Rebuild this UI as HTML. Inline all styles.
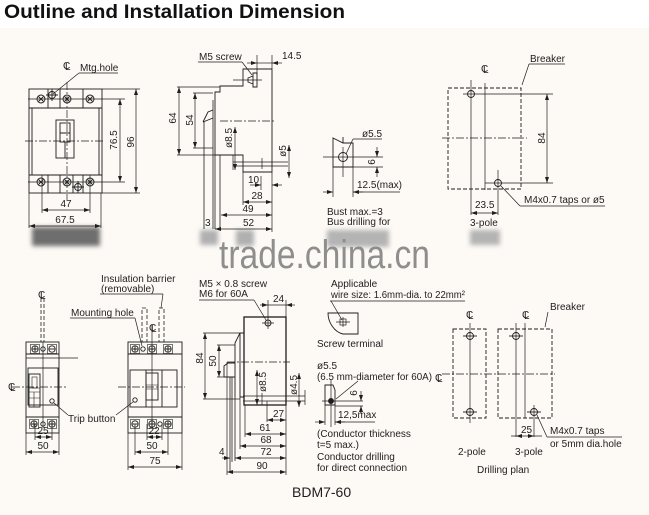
<!DOCTYPE html>
<html><head><meta charset="utf-8"><style>
html,body{margin:0;padding:0;background:#fdf9f5;}
svg{display:block;}
text{font-family:"Liberation Sans",Arial,sans-serif;font-size:10px;fill:#1e1e1e;stroke:none;}
</style></head><body>
<svg width="649" height="515" viewBox="0 0 649 515" xmlns="http://www.w3.org/2000/svg">
<defs>
<marker id="a" viewBox="0 0 6 4" refX="6" refY="2" markerWidth="6" markerHeight="4" markerUnits="userSpaceOnUse" orient="auto-start-reverse"><path d="M0,0 L6,2 L0,4 z" fill="#1e1e1e"/></marker>
<filter id="b" x="-50%" y="-50%" width="200%" height="200%"><feGaussianBlur stdDeviation="2.5"/></filter>
<g id="sc"><circle r="4"/><path d="M-2.5,-2.5L2.5,2.5M2.5,-2.5L-2.5,2.5"/></g>
<g id="mh"><circle r="3.5"/><path d="M-6,0H6M0,-6V6"/></g>
<g id="sp"><circle r="3.2"/><path d="M-3.2,0H3.2M0,-3.2V3.2"/></g>
<g id="sm"><circle r="3.2"/><path d="M-3.2,0H3.2"/></g>
<g id="dh"><circle r="3.5"/><path d="M-7,0H7"/></g>
</defs>
<rect width="649" height="515" fill="#fdf9f5"/>
<rect width="649" height="28" fill="#ffffff"/>
<text x="4" y="18" textLength="341" lengthAdjust="spacingAndGlyphs" style="font-size:19.5px;font-weight:bold;fill:#111">Outline and Installation Dimension</text>

<!-- blurred blobs -->
<g filter="url(#b)">
<rect x="32" y="227" width="68" height="19" fill="#6e6e6e"/>
<rect x="200" y="230" width="18" height="15" fill="#b0b0b0"/>
<rect x="236" y="230" width="18" height="16" fill="#b0b0b0"/>
<rect x="327" y="230" width="62" height="17" fill="#b4b4b4"/>
<rect x="470" y="230" width="30" height="15" fill="#b4b4b4"/>
</g>
<text x="219" y="268" textLength="211" lengthAdjust="spacingAndGlyphs" style="font-size:40px;fill:#8e8e8e">trade.china.cn</text>

<g fill="none" stroke="#1e1e1e" stroke-width="0.9">
<!-- ===== TOP LEFT breaker ===== -->
<rect x="29" y="89" width="73" height="104"/>
<path d="M29,108H102M29,175H102M32,108V175M99,108V175"/>
<path d="M48,89V108M60,89V108M83,89V108M48,175V193M60,175V193M73,175V193M83,175V193"/>
<rect x="56" y="120" width="18" height="38"/>
<rect x="60" y="123" width="10" height="19"/>
<path d="M60,133H70M65,142V158"/>
<use href="#sc" x="41" y="99"/><use href="#sc" x="67" y="99"/><use href="#sc" x="90" y="99"/>
<use href="#sc" x="41" y="182"/><use href="#sc" x="67" y="182"/><use href="#sc" x="90" y="182"/>
<use href="#mh" x="52" y="95"/><use href="#mh" x="78" y="187"/>
<path d="M67,82V200M25,141H103" stroke-dasharray="8 2 2 2" stroke-width="0.7"/>
<path d="M28,99H125M28,182H125M102,89H140M102,193H140" stroke-width="0.7"/>
<path d="M42,175V213M90,175V213M29,193V228M101,193V228" stroke-width="0.7"/>
<path d="M79,73H118M79,73L53,94" stroke-width="0.7"/>
<g marker-start="url(#a)" marker-end="url(#a)" stroke-width="0.7">
<path d="M120,99V182"/><path d="M136,89V193"/><path d="M42,210H90"/><path d="M29,226H101"/>
</g>

<!-- ===== TOP MIDDLE side view ===== -->
<path d="M243,69H272V172H243V155H215V92H220V86H243Z"/>
<path d="M213,100V229M204,122V229M215,155V229M220,155V229" stroke-width="0.8"/>
<path d="M243,172V205M272,172V232" stroke-width="0.7"/>
<path d="M203,122L208,112L213,110M203,122L213,118"/>
<path d="M253,73V87H257V73ZM253,76L248,78V82L253,84"/>
<path d="M233,80H262" stroke-width="0.7"/>
<path d="M233,155V170M233,162H288M233,166H288M262,158V169" stroke-width="0.7"/>
<path d="M220,121H276" stroke-dasharray="8 2 2 2" stroke-width="0.7"/>
<path d="M177,87H220M177,155H215M193,93H213M193,148H213" stroke-width="0.7"/>
<path d="M257,55V75M272,55V69M261,176V190M198,62H242M242,62L252,75" stroke-width="0.7"/>
<path d="M257,63H272" stroke-width="0.7"/>
<g marker-end="url(#a)" stroke-width="0.7">
<path d="M247,63H257"/><path d="M282,63H272"/>
<path d="M250,185H261"/><path d="M282,185H272"/>
</g>
<g marker-start="url(#a)" marker-end="url(#a)" stroke-width="0.7">
<path d="M179,87V155"/><path d="M195,93V148"/><path d="M235,127V170"/><path d="M289,145V178"/>
<path d="M243,202H272"/><path d="M221,215H272"/><path d="M215,229H272"/>
</g>

<!-- ===== Bus drilling detail ===== -->
<path d="M333,167V138L343,143H353V167Z M343,137V143"/>
<circle cx="343" cy="157" r="4.5"/>
<path d="M323,157H383M343,147V177M353,167H383M333,167V197M353,167V197" stroke-width="0.7"/>
<path d="M353,139H382M353,139L346,154M353,192H400" stroke-width="0.7"/>
<g marker-end="url(#a)" stroke-width="0.7">
<path d="M377,147V157"/><path d="M377,177V167"/>
<path d="M323,192H333"/><path d="M363,192H353"/>
</g>

<!-- ===== TOP RIGHT drilling ===== -->
<rect x="448" y="88" width="73" height="101" stroke-dasharray="4 2"/>
<circle cx="471" cy="94" r="3.5"/><circle cx="498" cy="183" r="3.5"/>
<path d="M471,80V215M463,94H553M485,83V190M498,170V215M485,183H553" stroke-width="0.7"/>
<path d="M442,138H527" stroke-dasharray="8 2 2 2" stroke-width="0.7"/>
<path d="M529,64H565M529,64L522,85M520,206H605M520,206L501,186" stroke-width="0.7"/>
<g marker-start="url(#a)" marker-end="url(#a)" stroke-width="0.7">
<path d="M547,94V183"/><path d="M471,213H498"/>
</g>

<!-- ===== BOTTOM LEFT 2-pole ===== -->
<rect x="26" y="342" width="33" height="91"/>
<path d="M26,354H59M26,417H59"/>
<rect x="30.5" y="344.5" width="9" height="9" stroke-width="0.6"/>
<rect x="47.5" y="344.5" width="9" height="9" stroke-width="0.6"/>
<rect x="29.5" y="419.5" width="9" height="9" stroke-width="0.6"/>
<rect x="47.5" y="419.5" width="9" height="9" stroke-width="0.6"/>
<use href="#sp" x="35" y="349"/><circle cx="43" cy="349" r="2.2"/><use href="#sm" x="52" y="349"/>
<use href="#sp" x="34" y="424"/><circle cx="43" cy="424" r="2.2"/><use href="#sp" x="52" y="424"/>
<rect x="28" y="368" width="30" height="37"/>
<rect x="29" y="374" width="11" height="33"/>
<rect x="32" y="377" width="5" height="11" stroke-width="0.6"/>
<path d="M29,388H40M29,392H40M29,398H40M34,392V407" stroke-width="0.6"/>
<path d="M43,342V428" stroke-width="0.7"/>
<path d="M41,298V342M44,298V342" stroke-dasharray="4 2" stroke-width="0.8"/>
<path d="M26,358H78" stroke-width="0.7"/>
<path d="M12,387H68" stroke-dasharray="8 2 2 2" stroke-width="0.7"/>
<circle cx="52" cy="401" r="2.2"/>
<path d="M35,424V440M52,424V440M26,433V455M59,433V455" stroke-width="0.7"/>
<g marker-start="url(#a)" marker-end="url(#a)" stroke-width="0.7">
<path d="M35,437H52"/><path d="M26,452H59"/>
</g>

<!-- ===== BOTTOM 3-pole ===== -->
<rect x="128" y="342" width="54" height="91"/>
<path d="M128,354H182M128,417H182"/>
<rect x="130.5" y="344.5" width="9" height="9" stroke-width="0.6"/>
<rect x="147.5" y="344.5" width="9" height="9" stroke-width="0.6"/>
<rect x="163.5" y="344.5" width="9" height="9" stroke-width="0.6"/>
<rect x="130.5" y="419.5" width="9" height="9" stroke-width="0.6"/>
<rect x="147.5" y="419.5" width="9" height="9" stroke-width="0.6"/>
<rect x="163.5" y="419.5" width="9" height="9" stroke-width="0.6"/>
<use href="#sp" x="135" y="349"/><circle cx="143" cy="349" r="2.2"/><use href="#sp" x="152" y="349"/><use href="#sp" x="168" y="349"/>
<use href="#sm" x="135" y="424"/><use href="#sp" x="152" y="424"/><circle cx="160" cy="424" r="2.2"/><use href="#sp" x="168" y="424"/>
<rect x="130" y="370" width="47" height="37"/>
<path d="M146,370V407M162,370V407"/>
<rect x="146" y="373" width="12" height="27"/>
<path d="M146,385H158M146,389H158M152,389V400" stroke-width="0.6"/>
<path d="M152,325V428" stroke-width="0.7"/>
<path d="M118,387H185" stroke-dasharray="8 2 2 2" stroke-width="0.7"/>
<rect x="142" y="308" width="5" height="34" stroke-dasharray="4 2" stroke-width="0.8"/>
<rect x="159" y="308" width="5" height="34" stroke-dasharray="4 2" stroke-width="0.8"/>
<circle cx="135" cy="400" r="2.2"/>
<path d="M147,424V440M162,424V440M135,424V455M168,424V455M128,433V470M182,433V470" stroke-width="0.7"/>
<g marker-start="url(#a)" marker-end="url(#a)" stroke-width="0.7">
<path d="M147,437H162"/><path d="M135,452H168"/><path d="M128,467H182"/>
</g>
<path d="M70,318H135M135,318L142,346M100,294H163M163,294L161,308M54,403L68,415M116,415L133,402" stroke-width="0.7"/>

<!-- ===== BOTTOM MIDDLE side view ===== -->
<rect x="244" y="317" width="42" height="88" stroke-width="1.3"/>
<path d="M244,333H240V397H244M240,333L235,343V397"/>
<path d="M224,377V366L228,363H235M224,377H235"/>
<path d="M230,377V472M232,377V462M235,397V461" stroke-width="0.8"/>
<circle cx="268" cy="323" r="3"/>
<path d="M262,323H274M268,317V329" stroke-width="0.7"/>
<path d="M227,362H290" stroke-dasharray="8 2 2 2" stroke-width="0.7"/>
<path d="M243,396H305M243,401H305M305,390V405M262,393V405" stroke-width="0.7"/>
<path d="M203,333H240M203,399H240M217,345H235M217,377H224" stroke-width="0.7"/>
<path d="M268,300V318M286,300V317M268,305H286" stroke-width="0.7"/>
<path d="M267,401V422M245,405V437M240,397V449M227,362V475M286,405V475" stroke-width="0.7"/>
<path d="M199,300H254M254,300L266,320" stroke-width="0.7"/>
<g marker-end="url(#a)" stroke-width="0.7">
<path d="M260,305H268"/><path d="M295,305H286"/><path d="M222,458H230"/>
</g>
<g marker-start="url(#a)" marker-end="url(#a)" stroke-width="0.7">
<path d="M205,333V399"/><path d="M219,345V377"/><path d="M257,370V405"/><path d="M299,373V407"/>
<path d="M267,420H286"/><path d="M245,434H286"/><path d="M240,446H286"/><path d="M235,458H286"/><path d="M227,472H286"/>
</g>

<!-- ===== BOTTOM CENTER details ===== -->
<path d="M330,301H465M331,301L342,320" stroke-width="0.7"/>
<path d="M328,313H358V334H343C334,332 328,322 328,313Z"/>
<rect x="340" y="319" width="6" height="6" stroke-width="0.7"/>
<path d="M336,322H350M343,317V327" stroke-width="0.7"/>
<path d="M325,405V385H333L335,390V405Z"/>
<circle cx="331" cy="401" r="2.5" fill="#1e1e1e"/>
<path d="M322,401H363M331,380V427M335,406H363M325,405V425M335,405V425M336,399L358,381M335,422H375" stroke-width="0.7"/>
<g marker-end="url(#a)" stroke-width="0.7">
<path d="M361,391V401"/><path d="M361,414V406"/>
<path d="M315,422H325"/><path d="M345,422H335"/>
</g>

<!-- ===== DRILLING PLAN ===== -->
<rect x="453" y="329" width="33" height="89" stroke-dasharray="4 2"/>
<path d="M470,323V423" stroke-width="0.7"/>
<use href="#dh" x="470" y="336"/><use href="#dh" x="470" y="412"/>
<rect x="498" y="329" width="54" height="89" stroke-dasharray="4 2"/>
<path d="M516,323V437M525,323V418M534,405V437" stroke-width="0.7"/>
<use href="#dh" x="516" y="336"/><use href="#dh" x="534" y="412"/>
<path d="M442,374H555" stroke-dasharray="8 2 2 2" stroke-width="0.7"/>
<path d="M547,437H622M547,437L537,415M548,312L545,327M511,436H516M534,436H542" stroke-width="0.7"/>
<g marker-start="url(#a)" marker-end="url(#a)" stroke-width="0.7">
<path d="M516,436H534"/>
</g>
</g>

<!-- ===== TEXT ===== -->
<g style="font-size:9px">
<text x="63" y="69">C</text><text x="65" y="70">L</text>
<text x="481" y="72">C</text><text x="483" y="73">L</text>
<text x="38" y="298">C</text><text x="40" y="299">L</text>
<text x="8" y="390">C</text><text x="10" y="391">L</text>
<text x="149" y="331">C</text><text x="151" y="332">L</text>
<text x="466" y="318">C</text><text x="468" y="319">L</text>
<text x="522" y="318">C</text><text x="524" y="319">L</text>
<text x="435" y="381">C</text><text x="437" y="382">L</text>
</g>
<text x="80" y="71">Mtg.hole</text>
<text transform="translate(117,140) rotate(-90)" text-anchor="middle">76.5</text>
<text transform="translate(134,142) rotate(-90)" text-anchor="middle">96</text>
<text x="66" y="207" text-anchor="middle">47</text>
<text x="65" y="223" text-anchor="middle">67.5</text>

<text x="199" y="60">M5 screw</text>
<text x="282" y="59">14.5</text>
<text transform="translate(176,118) rotate(-90)" text-anchor="middle">64</text>
<text transform="translate(193,120) rotate(-90)" text-anchor="middle">54</text>
<text transform="translate(232,138) rotate(-90)" text-anchor="middle">ø8.5</text>
<text transform="translate(286,151) rotate(-90)" text-anchor="middle">ø5</text>
<text x="248" y="183">10</text>
<text x="257" y="199" text-anchor="middle">28</text>
<text x="248" y="212" text-anchor="middle">49</text>
<text x="243" y="226">52</text>
<text x="205" y="226">3</text>

<text x="362" y="137">ø5.5</text>
<text transform="translate(375,162) rotate(-90)" text-anchor="middle">6</text>
<text x="357" y="188">12.5(max)</text>
<text x="327" y="215">Bust max.=3</text>
<text x="327" y="225">Bus drilling for</text>

<text x="530" y="62">Breaker</text>
<text transform="translate(545,138) rotate(-90)" text-anchor="middle">84</text>
<text x="475" y="208">23.5</text>
<text x="524" y="203">M4x0.7 taps or ø5</text>
<text x="470" y="226">3-pole</text>

<text x="101" y="282">Insulation barrier</text>
<text x="101" y="292">(removable)</text>
<text x="71" y="316">Mounting hole</text>
<text x="68" y="422">Trip button</text>
<text x="43" y="434" text-anchor="middle">25</text>
<text x="43" y="449" text-anchor="middle">50</text>
<text x="154" y="434" text-anchor="middle">22</text>
<text x="152" y="449" text-anchor="middle">50</text>
<text x="155" y="464" text-anchor="middle">75</text>

<text x="199" y="287">M5 × 0.8 screw</text>
<text x="199" y="297">M6 for 60A</text>
<text x="273" y="302">24</text>
<text transform="translate(203,358) rotate(-90)" text-anchor="middle">84</text>
<text transform="translate(216,361) rotate(-90)" text-anchor="middle">50</text>
<text transform="translate(266,382) rotate(-90)" text-anchor="middle">ø8.5</text>
<text transform="translate(297,385) rotate(-90)" text-anchor="middle">ø4.5</text>
<text x="273" y="417">27</text>
<text x="265" y="431" text-anchor="middle">61</text>
<text x="266" y="443" text-anchor="middle">68</text>
<text x="266" y="455" text-anchor="middle">72</text>
<text x="262" y="469" text-anchor="middle">90</text>
<text x="219" y="455">4</text>

<text x="331" y="287">Applicable</text>
<text x="331" y="298" textLength="134" lengthAdjust="spacingAndGlyphs">wire size: 1.6mm-dia. to 22mm²</text>
<text x="317" y="347">Screw terminal</text>
<text x="317" y="369">ø5.5</text>
<text x="317" y="380" textLength="115" lengthAdjust="spacingAndGlyphs">(6.5 mm-diameter for 60A)</text>
<text transform="translate(357,393) rotate(-90)" text-anchor="middle">6</text>
<text x="338" y="418">12,5max</text>
<text x="317" y="437">(Conductor thickness</text>
<text x="317" y="448">t=5 max.)</text>
<text x="317" y="460">Conductor drilling</text>
<text x="317" y="471">for direct connection</text>

<text x="550" y="310">Breaker</text>
<text x="521" y="433">25</text>
<text x="550" y="434">M4x0.7 taps</text>
<text x="550" y="447">or 5mm dia.hole</text>
<text x="458" y="455">2-pole</text>
<text x="515" y="455">3-pole</text>
<text x="477" y="473">Drilling plan</text>

<text x="292" y="497" style="font-size:14px">BDM7-60</text>
</svg>
</body></html>
